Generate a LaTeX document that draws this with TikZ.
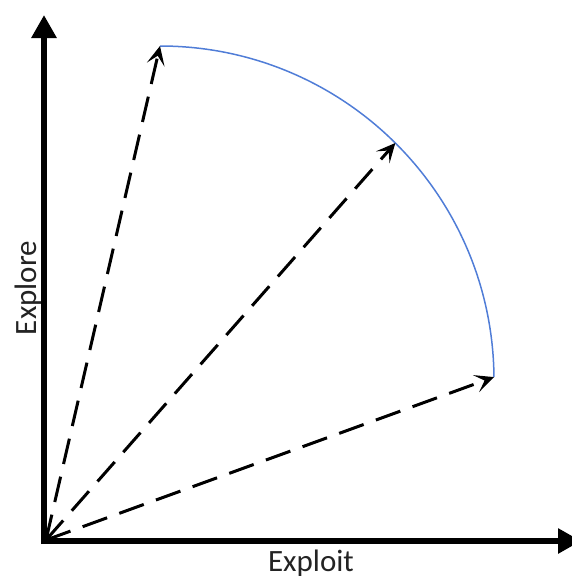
\documentclass[tikz,border=0pt]{standalone}
\usepackage{fontspec}
\setmainfont{Carlito}
\usetikzlibrary{arrows.meta,calc}
\definecolor{arcblue}{RGB}{80,125,215}
\definecolor{labelgray}{RGB}{35,35,35}
\tikzset{
  axisline/.style={line width=6pt, -{Triangle[length=23pt,width=24pt]}},
  vecline/.style={line width=3pt, dash pattern=on 26pt off 13pt, -{Stealth[length=19pt,width=18pt,inset=9pt]}},
  arcline/.style={draw=arcblue, line width=1.5pt},
  axislabel/.style={font=\fontsize{31}{36}\selectfont, text=labelgray, inner sep=0pt, anchor=base}
}
\begin{document}
\begin{tikzpicture}[x=1pt,y=-1pt]
\useasboundingbox (0,0) rectangle (571,579);
\coordinate (C) at (160,380);
\coordinate (O) at (46,540);
\coordinate (Ytop) at (44,15);
\coordinate (Ybot) at (44,544);
\coordinate (Xleft) at (41,541);
\coordinate (Xright) at (581,541);
\coordinate (P1) at ($(C)+(-90:334)$);
\coordinate (P2) at ($(C)+(-45.2:334)$);
\coordinate (P3) at ($(C)+(-0.5:334)$);
\draw[axisline] (Ybot) -- (Ytop);
\draw[axisline] (Xleft) -- (Xright);
\draw[arcline] (P1) arc[start angle=-90, end angle=-0.5, radius=334];
\draw[vecline] (O) -- (P1);
\draw[vecline] (O) -- (P2);
\draw[vecline] (O) -- (P3);
\node[axislabel] (xlab) at (311,571) {Exploit};
\node[axislabel, rotate=90] (ylab) at (36,288) {Explore};
\end{tikzpicture}
\end{document}
